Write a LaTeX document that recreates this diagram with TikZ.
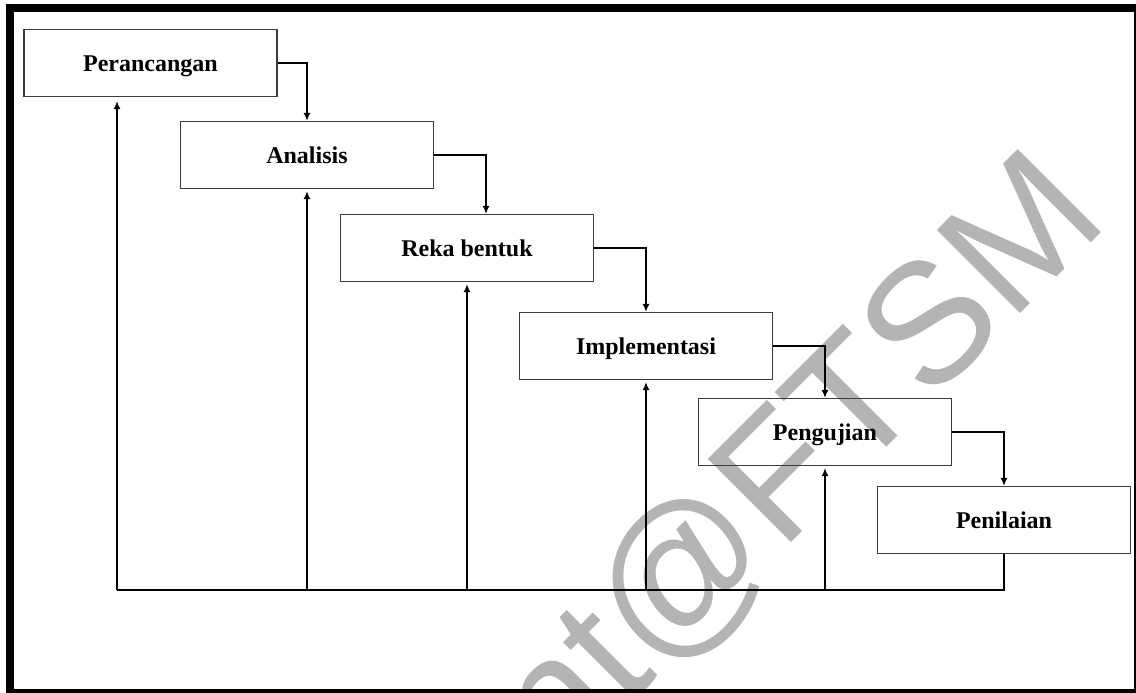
\documentclass[tikz,border=0pt]{standalone}
\usepackage{fontspec}
\setmainfont{Liberation Serif}
\newfontfamily\wmfont{Liberation Sans}
\usetikzlibrary{arrows.meta}
\definecolor{wmgray}{RGB}{180,180,180}
\definecolor{boxline}{RGB}{60,60,60}
\tikzset{
  stage/.style={draw=boxline, line width=1.1pt, minimum width=253pt, minimum height=67pt,
    inner sep=0pt, text height=16pt, text depth=0pt, font=\fontsize{24}{28}\selectfont\bfseries},
  flow/.style={draw=black, line width=2pt, -{Latex[length=8pt,width=7pt]}},
  plain/.style={draw=black, line width=2pt},
  frame/.style={draw=black, line width=8pt},
  watermark/.style={text=wmgray, font=\wmfont\fontsize{171}{171}\selectfont, rotate=45,
    inner sep=0pt, anchor=base east}
}
\begin{document}
\begin{tikzpicture}[x=1pt, y=-1pt]
\useasboundingbox (0,0) rectangle (1136,693);
\clip (0,0) rectangle (1136,693);
\fill[white] (0,0) rectangle (1136,693);
% watermark
\node[watermark] (wm) at (1111,223) {Student@FTSM};
% stages
\node[stage] (p) at (150.5,63) {Perancangan};
\node[stage] (a) at (307,155) {Analisis};
\node[stage] (r) at (467,248) {Reka bentuk};
\node[stage] (i) at (646,346) {Implementasi};
\node[stage] (g) at (825,432) {Pengujian};
\node[stage] (n) at (1004,520) {Penilaian};
% frame
\draw[frame] (10,8.5) rectangle (1138,693);
% forward flow
\draw[flow] (p.east) -| (a.north);
\draw[flow] (a.east) -| ([xshift=19pt]r.north);
\draw[flow] (r.east) -| (i.north);
\draw[flow] (i.east) -| (g.north);
\draw[flow] (g.east) -| (n.north);
% feedback
\coordinate (b0) at (117,590);
\draw[plain] (n.south) |- (b0);
\draw[flow, shorten >=4pt] (b0) -- (b0 |- p.south);
\draw[flow, shorten >=2pt] (a.south |- b0) -- (a.south);
\draw[flow, shorten >=2pt] (r.south |- b0) -- (r.south);
\draw[flow, shorten >=2pt] (i.south |- b0) -- (i.south);
\draw[flow, shorten >=2pt] (g.south |- b0) -- (g.south);
\end{tikzpicture}
\end{document}
